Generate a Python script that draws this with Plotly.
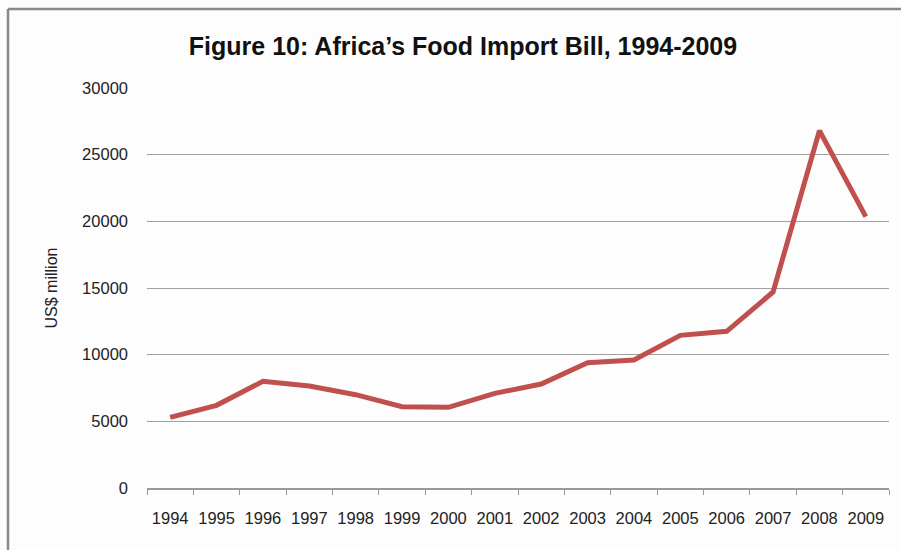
import plotly.graph_objects as go

years = [str(y) for y in range(1994, 2010)]
values = [5300, 6200, 8000, 7650, 7000, 6100, 6050, 7100, 7800, 9400, 9600,
          11450, 11750, 14700, 26800, 20350]
y_ticks = [0, 5000, 10000, 15000, 20000, 25000, 30000]

W, H = 901, 550
L, R, T, B = 147, 12, 88, 62

fig = go.Figure()
fig.add_trace(go.Scatter(
    x=years, y=values, mode="lines",
    line=dict(color="#C0504D", width=5),
    hoverinfo="x+y", showlegend=False,
))

fig.update_layout(
    width=W, height=H,
    margin=dict(l=L, r=R, t=T, b=B),
    paper_bgcolor="#fdfdfd",
    plot_bgcolor="#fdfdfd",
    font=dict(family="Liberation Sans, Arial, sans-serif", size=16, color="#222"),
    title=dict(
        text="<b>Figure 10: Africa’s Food Import Bill, 1994-2009</b>",
        x=(463) / W, xanchor="center",
        y=1 - 46 / H, yanchor="middle",
        font=dict(size=25, color="#111", family="Liberation Sans, Arial, sans-serif"),
    ),
    xaxis=dict(
        type="category",
        range=[-0.5, 15.5],
        tickson="boundaries",
        ticks="outside", ticklen=5, tickcolor="#999", tickwidth=1,
        showline=True, linecolor="#999", linewidth=1.5,
        showgrid=False, zeroline=False,
        ticklabelstandoff=14,
        tickfont=dict(size=16.5, color="#222"),
        fixedrange=True,
    ),
    yaxis=dict(
        range=[0, 30000],
        tickvals=y_ticks,
        ticktext=[str(v) for v in y_ticks],
        showgrid=True, gridcolor="#a0a0a0", gridwidth=1.3,
        zeroline=False, showline=False,
        ticks="", ticklabelstandoff=18,
        tickfont=dict(size=16.5, color="#222"),
        title=dict(text="US$ million", font=dict(size=16, color="#222"), standoff=20),
        fixedrange=True,
    ),
    shapes=[
        dict(type="line", xref="paper", yref="paper",
             x0=(8 - L) / (W - L - R), x1=(W + 5 - L) / (W - L - R),
             y0=1 + (T - 9) / (H - T - B), y1=1 + (T - 9) / (H - T - B),
             line=dict(color="#888", width=2.5)),
        dict(type="line", xref="paper", yref="paper",
             x0=(8 - L) / (W - L - R), x1=(8 - L) / (W - L - R),
             y0=1 + (T - 9) / (H - T - B), y1=-(B + 5) / (H - T - B),
             line=dict(color="#888", width=2.5)),
    ],
)

fig.write_html("out.html")
